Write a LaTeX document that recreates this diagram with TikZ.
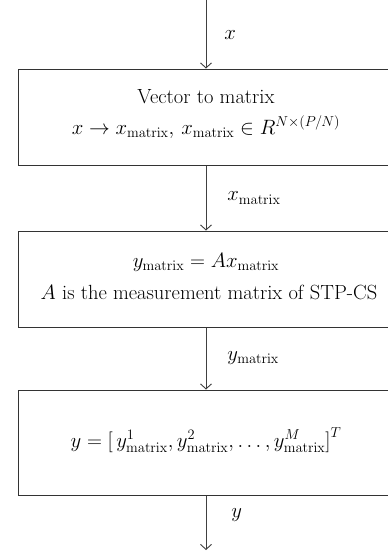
\documentclass[tikz,border=0pt]{standalone}
\usetikzlibrary{arrows.meta}
\begin{document}
\begin{tikzpicture}[x=1pt,y=-1pt,
  line width=0.9pt,
  every node/.style={font=\fontsize{20.5}{24}\selectfont},
  boxst/.style={draw=black!80, line width=1pt},
  arr/.style={draw=black!75, line width=0.9pt, -{Straight Barb[length=5pt,width=11pt,line width=0.9pt]}},
  lab/.style={anchor=west, inner sep=0pt}]
\useasboundingbox (0,0) rectangle (388,555);
\node[boxst, minimum width=376pt, minimum height=96pt, inner sep=0pt] (b1) at (206,117) {};
\node[boxst, minimum width=376pt, minimum height=96pt, inner sep=0pt] (b2) at (206,279) {};
\node[boxst, minimum width=376pt, minimum height=105pt, inner sep=0pt] (b3) at (206,442.5) {};
\node (t1a) at (206,97) {Vector to matrix};
\node (t1b) at (206,127) {$x\rightarrow x_{\mathrm{matrix}},\, x_{\mathrm{matrix}}\in R^{N\times(P/N)}$};
\node (t2a) at (206,262) {$y_{\mathrm{matrix}}=Ax_{\mathrm{matrix}}$};
\node (t2b) at (209,292) {$A$ is the measurement matrix of STP-CS};
\node (t3) at (206,440) {$y=\bigl[\,y^{1}_{\mathrm{matrix}},y^{2}_{\mathrm{matrix}},\ldots,y^{M}_{\mathrm{matrix}}\bigr]^{T}$};
\coordinate (top) at (206,0);
\coordinate (bot) at (206,550);
\draw[arr] (top) -- (b1.north);
\draw[arr] (b1.south) -- (b2.north);
\draw[arr] (b2.south) -- (b3.north);
\draw[arr] (b3.south) -- (bot);
\node[lab] (l1) at (224,35) {$x$};
\node[lab] (l2) at (227,198) {$x_{\mathrm{matrix}}$};
\node[lab] (l3) at (227,358) {$y_{\mathrm{matrix}}$};
\node[lab] (l4) at (231,515) {$y$};
\end{tikzpicture}
\end{document}
